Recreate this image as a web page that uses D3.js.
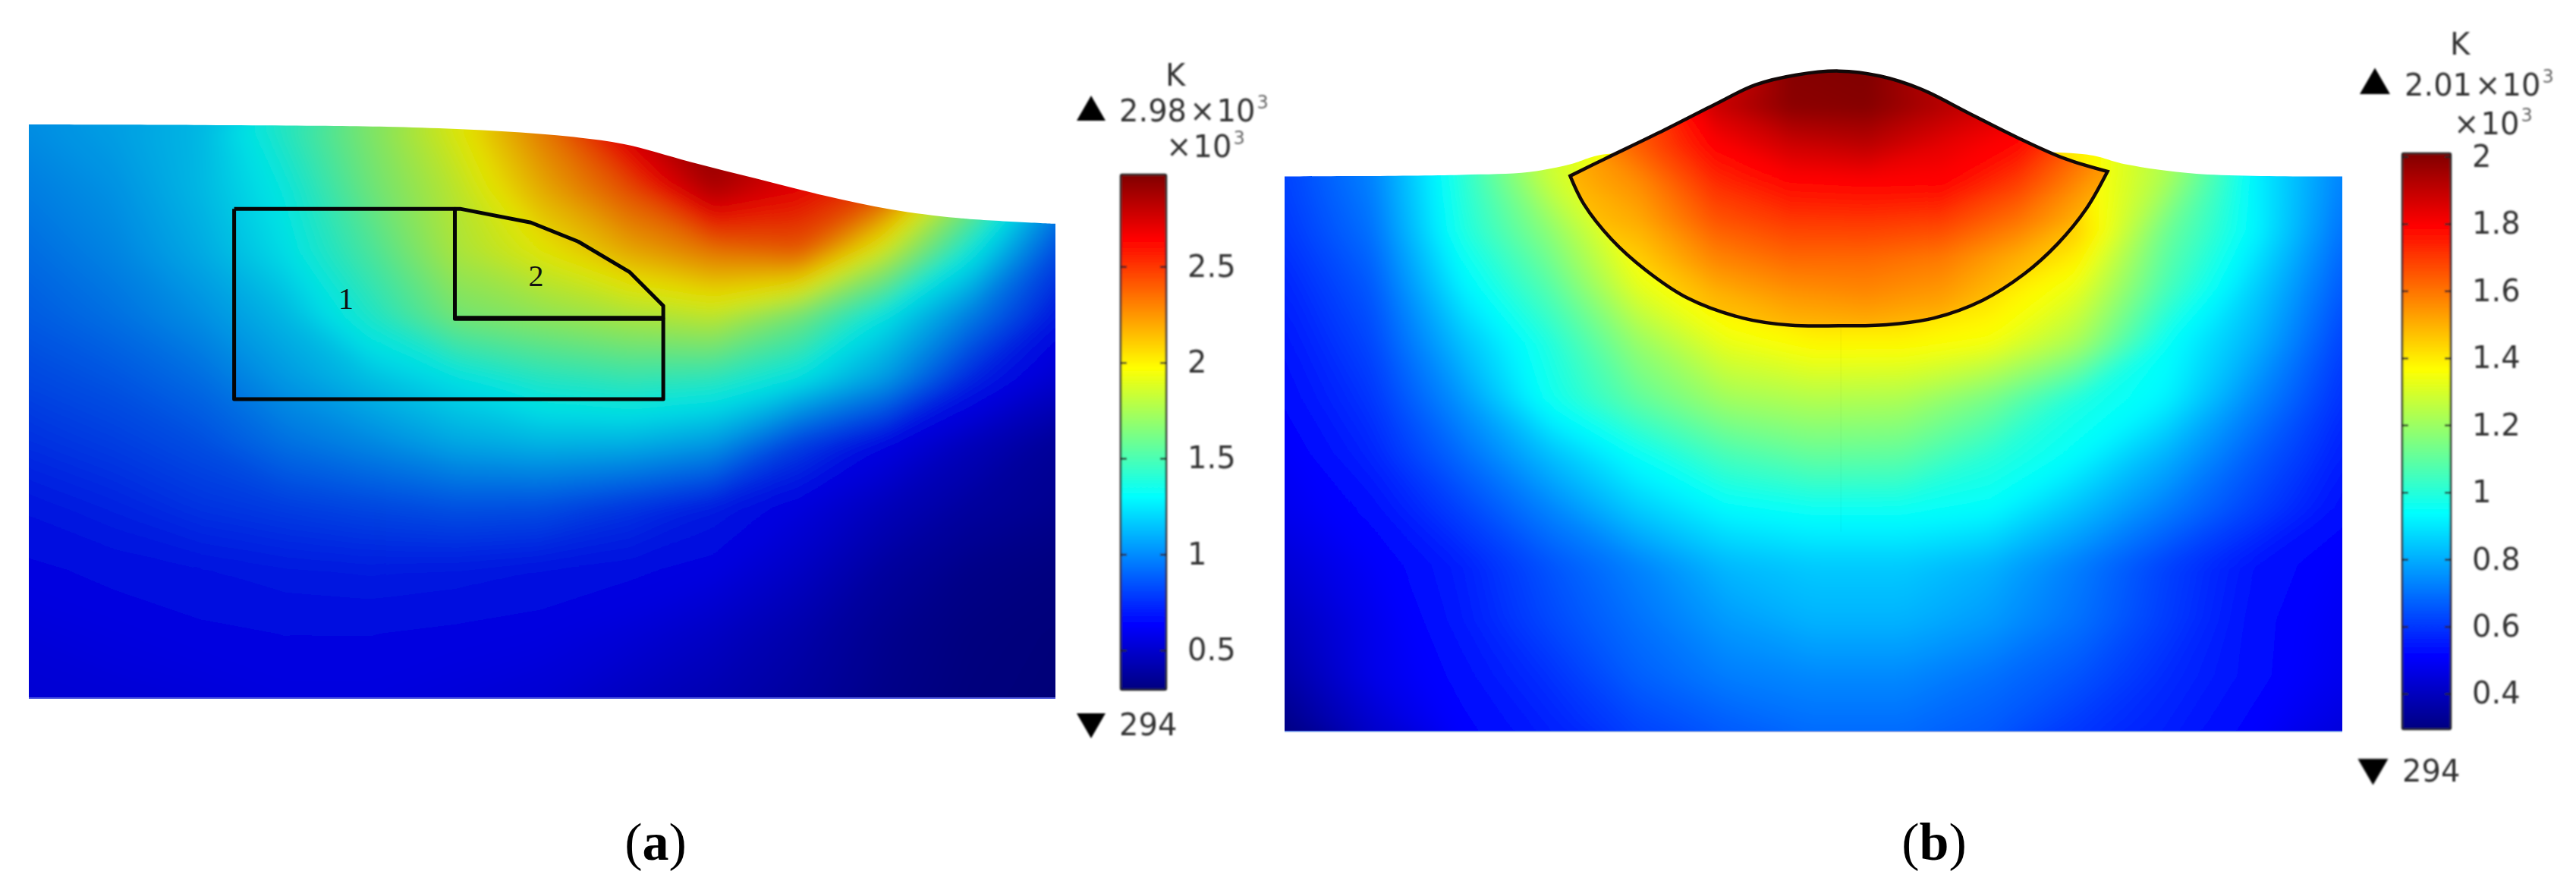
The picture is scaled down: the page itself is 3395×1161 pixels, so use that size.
<!DOCTYPE html>
<html><head><meta charset="utf-8">
<style>html,body{margin:0;padding:0;background:#fff}svg{display:block}</style>
<script src="https://cdn.jsdelivr.net/npm/d3@7/dist/d3.min.js"></script>
</head><body><svg id="c" width="3395" height="1161" xmlns="http://www.w3.org/2000/svg"></svg>
<script>
// ---------- data ----------
// temperatures in K, rows top to bottom, columns left to right
const fieldA = [
 [1050,1100,1170,1420,1680,1950,2300,2750,2980,2700,2300,1500,1000],
 [1000,1060,1170,1330,1620,1850,2150,2420,2850,2650,2450,1750,1100],
 [ 950,1020,1130,1280,1520,1800,1960,2150,2300,2380,1880,1330, 850],
 [ 900, 960,1050,1170,1390,1640,1720,1800,1860,1640,1300,1000, 700],
 [ 840, 880, 950,1080,1190,1290,1400,1450,1420,1290,1080, 740, 570],
 [ 770, 810, 860, 960,1030,1120,1160,1150,1080, 820, 650, 510, 400],
 [ 690, 730, 780, 810, 840, 870, 860, 790, 710, 620, 510, 420, 370],
 [ 640, 660, 680, 700, 710, 700, 680, 660, 630, 540, 420, 350, 320],
 [ 610, 625, 640, 650, 650, 640, 630, 600, 540, 460, 370, 320, 300],
 [ 590, 600, 610, 625, 625, 610, 590, 530, 480, 420, 350, 310, 294]
];
const fieldB = [
 [620,730,1000,1280,1400,1500,1500,1500,1500,1400,1230,920,730],
 [620,730,1000,1280,1400,1500,1500,1500,1500,1400,1230,920,730],
 [600,700, 980,1170,1400,1500,1500,1500,1500,1450,1120,925,700],
 [570,660, 910,1080,1320,1430,1500,1500,1430,1330,1060,860,660],
 [545,630, 830, 990,1190,1330,1380,1380,1350,1220, 950,810,620],
 [525,600, 760, 960,1100,1210,1240,1230,1140, 990, 920,740,590],
 [500,570, 690, 830, 950,1060,1110,1100,1010, 937, 810,670,560],
 [480,530, 620, 730, 850, 930, 955, 955, 935, 830, 720,620,530],
 [440,500, 560, 650, 730, 820, 850, 850, 810, 720, 620,540,500],
 [400,480, 550, 630, 700, 770, 810, 810, 770, 700, 610,530,490],
 [360,470, 530, 590, 670, 720, 740, 740, 700, 650, 580,530,480],
 [300,420, 510, 560, 620, 660, 690, 690, 660, 600, 560,510,450]
];
const fieldPool = [
 [1500,1600,1800,2000,2010,1900,1650,1500],
 [1500,1650,1880,1990,2000,1920,1850,1600],
 [1500,1640,1795,1880,1910,1840,1780,1600],
 [1480,1560,1720,1785,1795,1790,1690,1530],
 [1450,1510,1650,1700,1705,1690,1600,1470],
 [1420,1450,1570,1620,1620,1590,1500,1420],
 [1400,1410,1490,1540,1560,1530,1450,1400],
 [1400,1420,1450,1470,1480,1460,1420,1400]
];
// geometry in domain percent units: [across, height]
const surfaceA = [[0,100],[31.9,99.7],[41.7,99.2],[51.4,98.1],[57.9,96.6],[64.4,93.5],[71,90.5],[77.5,87.6],[84,85.2],[90.5,83.7],[100,82.7]];
const region1A = [[20,85.3],[41.5,85.3],[41.5,66.1],[61.8,66.1],[61.8,52.1],[20,52.1],[20,85.3]];
const region2A = [[41.5,85.3],[42,85.3],[48.9,82.9],[53.5,79.6],[58.5,74.3],[61.8,68.4],[61.8,66.3],[41.5,66.3],[41.5,85.3]];
const labelsA = [{t:"1",x:30.9,y:69.7},{t:"2",x:49.4,y:73.7}];
const surfaceB = [[0,100],[16.6,100.3],[23.1,100.8],[27,102.2],[30.3,104],[52.3,104],[75.6,104],[79.5,102.2],[86.2,100.5],[100,100]];
const poolUpperB = [[27,100.1],[30.3,103.2],[35.4,107.9],[40.7,113],[44.5,116.5],[48.4,118.3],[52.4,119],[56.3,118.1],[60.1,115.8],[64.7,111.4],[69.2,107.1],[73.8,103.2],[77.8,100.9]];
const poolLowerB = [[77.8,100.9],[75.8,94.2],[73.1,87.9],[69.9,82.4],[66,77.7],[61.4,74.5],[56.9,73.3],[52.4,73.1],[47.8,73.2],[43.3,74.5],[38.1,78.1],[34.1,83.2],[30.9,88.7],[28.3,95],[27,100.1]];
const seamB = [[52.6,73],[52.6,36]];
// colour bars
const minK = 294, maxA = 2980, maxB = 2010;
const ticksA = [500,1000,1500,2000,2500];
const ticksB = [400,600,800,1000,1200,1400,1600,1800,2000];
const jetStops = [0,.125,.375,.625,.875,1];
const jetColors = ["#000080","#0000ff","#00ffff","#ffff00","#ff0000","#800000"];
const jetDimmed = ["#000078","#0000e0","#00e4e4","#e4e400","#e40000","#800000"];

// ---------- helpers ----------
const svg = d3.select("#c");
const defs = svg.append("defs");
const jet = (lo,hi,cols)=>d3.scaleLinear().domain(jetStops.map(t=>lo+(hi-lo)*t)).range(cols).clamp(true);
function blurFilter(id,s){
  defs.append("filter").attr("id",id).attr("filterUnits","userSpaceOnUse").attr("x",-200).attr("y",-200).attr("width",3800).attr("height",1600)
    .append("feGaussianBlur").attr("stdDeviation",s);
}
blurFilter("soft",12);blurFilter("softP",7);blurFilter("softTxt",0.8);

function drawField(parent, rows, xr, yr, color, filt){
  const m=rows.length,n=rows[0].length,flat=rows.flat();
  const ix=d3.scaleLinear().domain([0,n-1]).range(xr), iy=d3.scaleLinear().domain([0,m-1]).range(yr);
  const lo=d3.min(flat)-1, hi=d3.max(flat);
  const contours=d3.contours().size([n,m]).thresholds(d3.range(lo,hi,(hi-lo)/800))(flat);
  const path=d3.geoPath(d3.geoTransform({point(x,y){this.stream.point(ix(x-.5),iy(y-.5));}}));
  parent.append("g").attr("filter",`url(#${filt})`).selectAll("path").data(contours).join("path")
    .attr("d",path).attr("fill",d=>color(d.value)).attr("stroke",d=>color(d.value)).attr("stroke-width",.6);
}
function colorBar(g,opt){
  const y=d3.scaleLinear().domain([minK,opt.max]).range(opt.yr);
  const id=opt.id, grad=defs.append("linearGradient").attr("id",id).attr("x1",0).attr("y1",1).attr("x2",0).attr("y2",0);
  grad.selectAll("stop").data(jetStops).join("stop").attr("offset",d=>d).attr("stop-color",(d,i)=>jetColors[i]);
  g.append("rect").attr("x",opt.x0).attr("y",opt.top).attr("width",opt.x1-opt.x0).attr("height",opt.yr[0]-opt.top)
    .attr("fill",`url(#${id})`).attr("stroke","#222").attr("stroke-width",2.5).attr("rx",2);
  const fmt=d=>d3.format("~g")(d/1000);
  const right=g.append("g").attr("transform",`translate(${opt.x1},0)`)
    .call(d3.axisRight(y).tickValues(opt.ticks).tickSizeInner(-8).tickSizeOuter(0).tickPadding(opt.pad).tickFormat(fmt));
  const left=g.append("g").attr("transform",`translate(${opt.x0},0)`)
    .call(d3.axisLeft(y).tickValues(opt.ticks).tickSizeInner(-8).tickSizeOuter(0).tickFormat(""));
  [right,left].forEach(a=>{a.select(".domain").remove();a.selectAll("line").attr("stroke","#222").attr("stroke-width",2.5);});
  right.selectAll("text").attr("font-family","DejaVu Sans").attr("font-size",opt.fs).attr("fill","#333");
}
function hdr(g,x,yb,main,sup,fs){
  const t=g.append("text").attr("x",x).attr("y",yb).attr("font-family","DejaVu Sans").attr("font-size",fs).attr("fill","#333");
  const parts=main.split("×");
  if(parts[0]) t.append("tspan").text(parts[0]);
  t.append("tspan").attr("dx",parts[0]?4:0).text("×");
  t.append("tspan").attr("dx",2).text(parts[1]);
  t.append("tspan").attr("dx",2).attr("dy",-fs*.42).attr("font-size",fs*.6).attr("fill","#666").text(sup);
}
const sym=d3.symbol().type(d3.symbolTriangle);

// ---------- panel a ----------
{
  const x=d3.scaleLinear().domain([0,100]).range([38,1391]);
  const y=d3.scaleLinear().domain([0,100]).range([920,164]);
  const line=d3.line().x(d=>x(d[0])).y(d=>y(d[1]));
  const smooth=d3.line().x(d=>x(d[0])).y(d=>y(d[1])).curve(d3.curveCatmullRom);
  const outline=smooth(surfaceA)+`L${x(100)},${y(0)}L${x(0)},${y(0)}Z`;
  defs.append("clipPath").attr("id","clipA").append("path").attr("d",outline);
  const f=svg.append("g").attr("clip-path","url(#clipA)");
  drawField(f,fieldA,[38,1391],[164,920],jet(minK,maxA,jetDimmed),"soft");
  svg.append("line").attr("x1",x(0)).attr("x2",x(100)).attr("y1",y(0)).attr("y2",y(0)).attr("stroke","#5560e0").attr("stroke-width",2);
  [region1A,region2A].forEach(r=>svg.append("path").attr("d",line(r)).attr("fill","none").attr("stroke","#050505").attr("stroke-width",5).attr("stroke-linejoin","round"));
  svg.selectAll(".la").data(labelsA).join("text").attr("class","la").attr("x",d=>x(d.x)).attr("y",d=>y(d.y)+14)
    .attr("text-anchor","middle").attr("font-family","Liberation Serif").attr("font-size",40).attr("fill","#111").text(d=>d.t);
}
// ---------- panel b ----------
{
  const x=d3.scaleLinear().domain([0,100]).range([1693,3087]);
  const y=d3.scaleLinear().domain([0,100]).range([964,232.6]);
  const line=d3.line().x(d=>x(d[0])).y(d=>y(d[1]));
  const smooth=d3.line().x(d=>x(d[0])).y(d=>y(d[1])).curve(d3.curveCatmullRom);
  const outline=smooth(surfaceB)+`L${x(100)},${y(0)}L${x(0)},${y(0)}Z`;
  defs.append("clipPath").attr("id","clipB").append("path").attr("d",outline);
  const f=svg.append("g").attr("clip-path","url(#clipB)");
  drawField(f,fieldB,[1693,3087],[159,964],jet(minK,maxB,jetColors),"soft");
  svg.append("line").attr("x1",x(0)).attr("x2",x(100)).attr("y1",y(0)).attr("y2",y(0)).attr("stroke","#7f9fe8").attr("stroke-width",2);
  svg.append("path").attr("d",line(seamB)).attr("stroke","#000").attr("stroke-opacity",.035).attr("stroke-width",1.5).attr("fill","none");
  const poolD=smooth(poolUpperB)+smooth(poolLowerB).replace(/^M/,"L");
  defs.append("clipPath").attr("id","clipP").append("path").attr("d",poolD+"Z");
  const p=svg.append("g").attr("clip-path","url(#clipP)");
  drawField(p,fieldPool,[2060,2760],[90,440],jet(minK,maxB,jetColors),"softP");
  svg.append("path").attr("d",poolD+"Z").attr("fill","none").attr("stroke","#120808").attr("stroke-width",4.5).attr("stroke-linejoin","miter");
}
// ---------- colour bars, labels ----------
const txt=svg.append("g").attr("filter","url(#softTxt)");
colorBar(txt,{id:"gA",max:maxA,yr:[909,230],top:230,x0:1477,x1:1537,ticks:ticksA,pad:28,fs:40});
colorBar(txt,{id:"gB",max:maxB,yr:[961,202],top:202,x0:3166,x1:3230,ticks:ticksB,pad:28,fs:40});
function label(x,y,s,anchor){return txt.append("text").attr("x",x).attr("y",y).attr("font-family","DejaVu Sans").attr("font-size",40).attr("fill","#333").attr("text-anchor",anchor||"start").text(s);}
label(1549,113,"K","middle");
hdr(txt,1475,160,"2.98×10","3",40);
hdr(txt,1537,207,"×10","3",40);
label(1475,969,"294");
txt.append("path").attr("d",sym.size(625)()).attr("transform","translate(1438,148)").attr("fill","#000");
txt.append("path").attr("d",sym.size(625)()).attr("transform","translate(1438,951) rotate(180)").attr("fill","#000");
label(3242,72,"K","middle");
hdr(txt,3169,126,"2.01×10","3",40);
hdr(txt,3234,177,"×10","3",40);
label(3166,1030,"294");
txt.append("path").attr("d",sym.size(693)()).attr("transform","translate(3130,112.5)").attr("fill","#000");
txt.append("path").attr("d",sym.size(693)()).attr("transform","translate(3127.5,1011.5) rotate(180)").attr("fill","#000");
function caption(cx,letter){
  const t=svg.append("text").attr("x",cx).attr("y",1133).attr("text-anchor","middle").attr("font-family","Liberation Serif").attr("font-size",70).attr("fill","#000");
  t.append("tspan").text("(");t.append("tspan").attr("font-weight","bold").text(letter);t.append("tspan").text(")");
}
caption(864,"a");caption(2549,"b");
</script></body></html>
